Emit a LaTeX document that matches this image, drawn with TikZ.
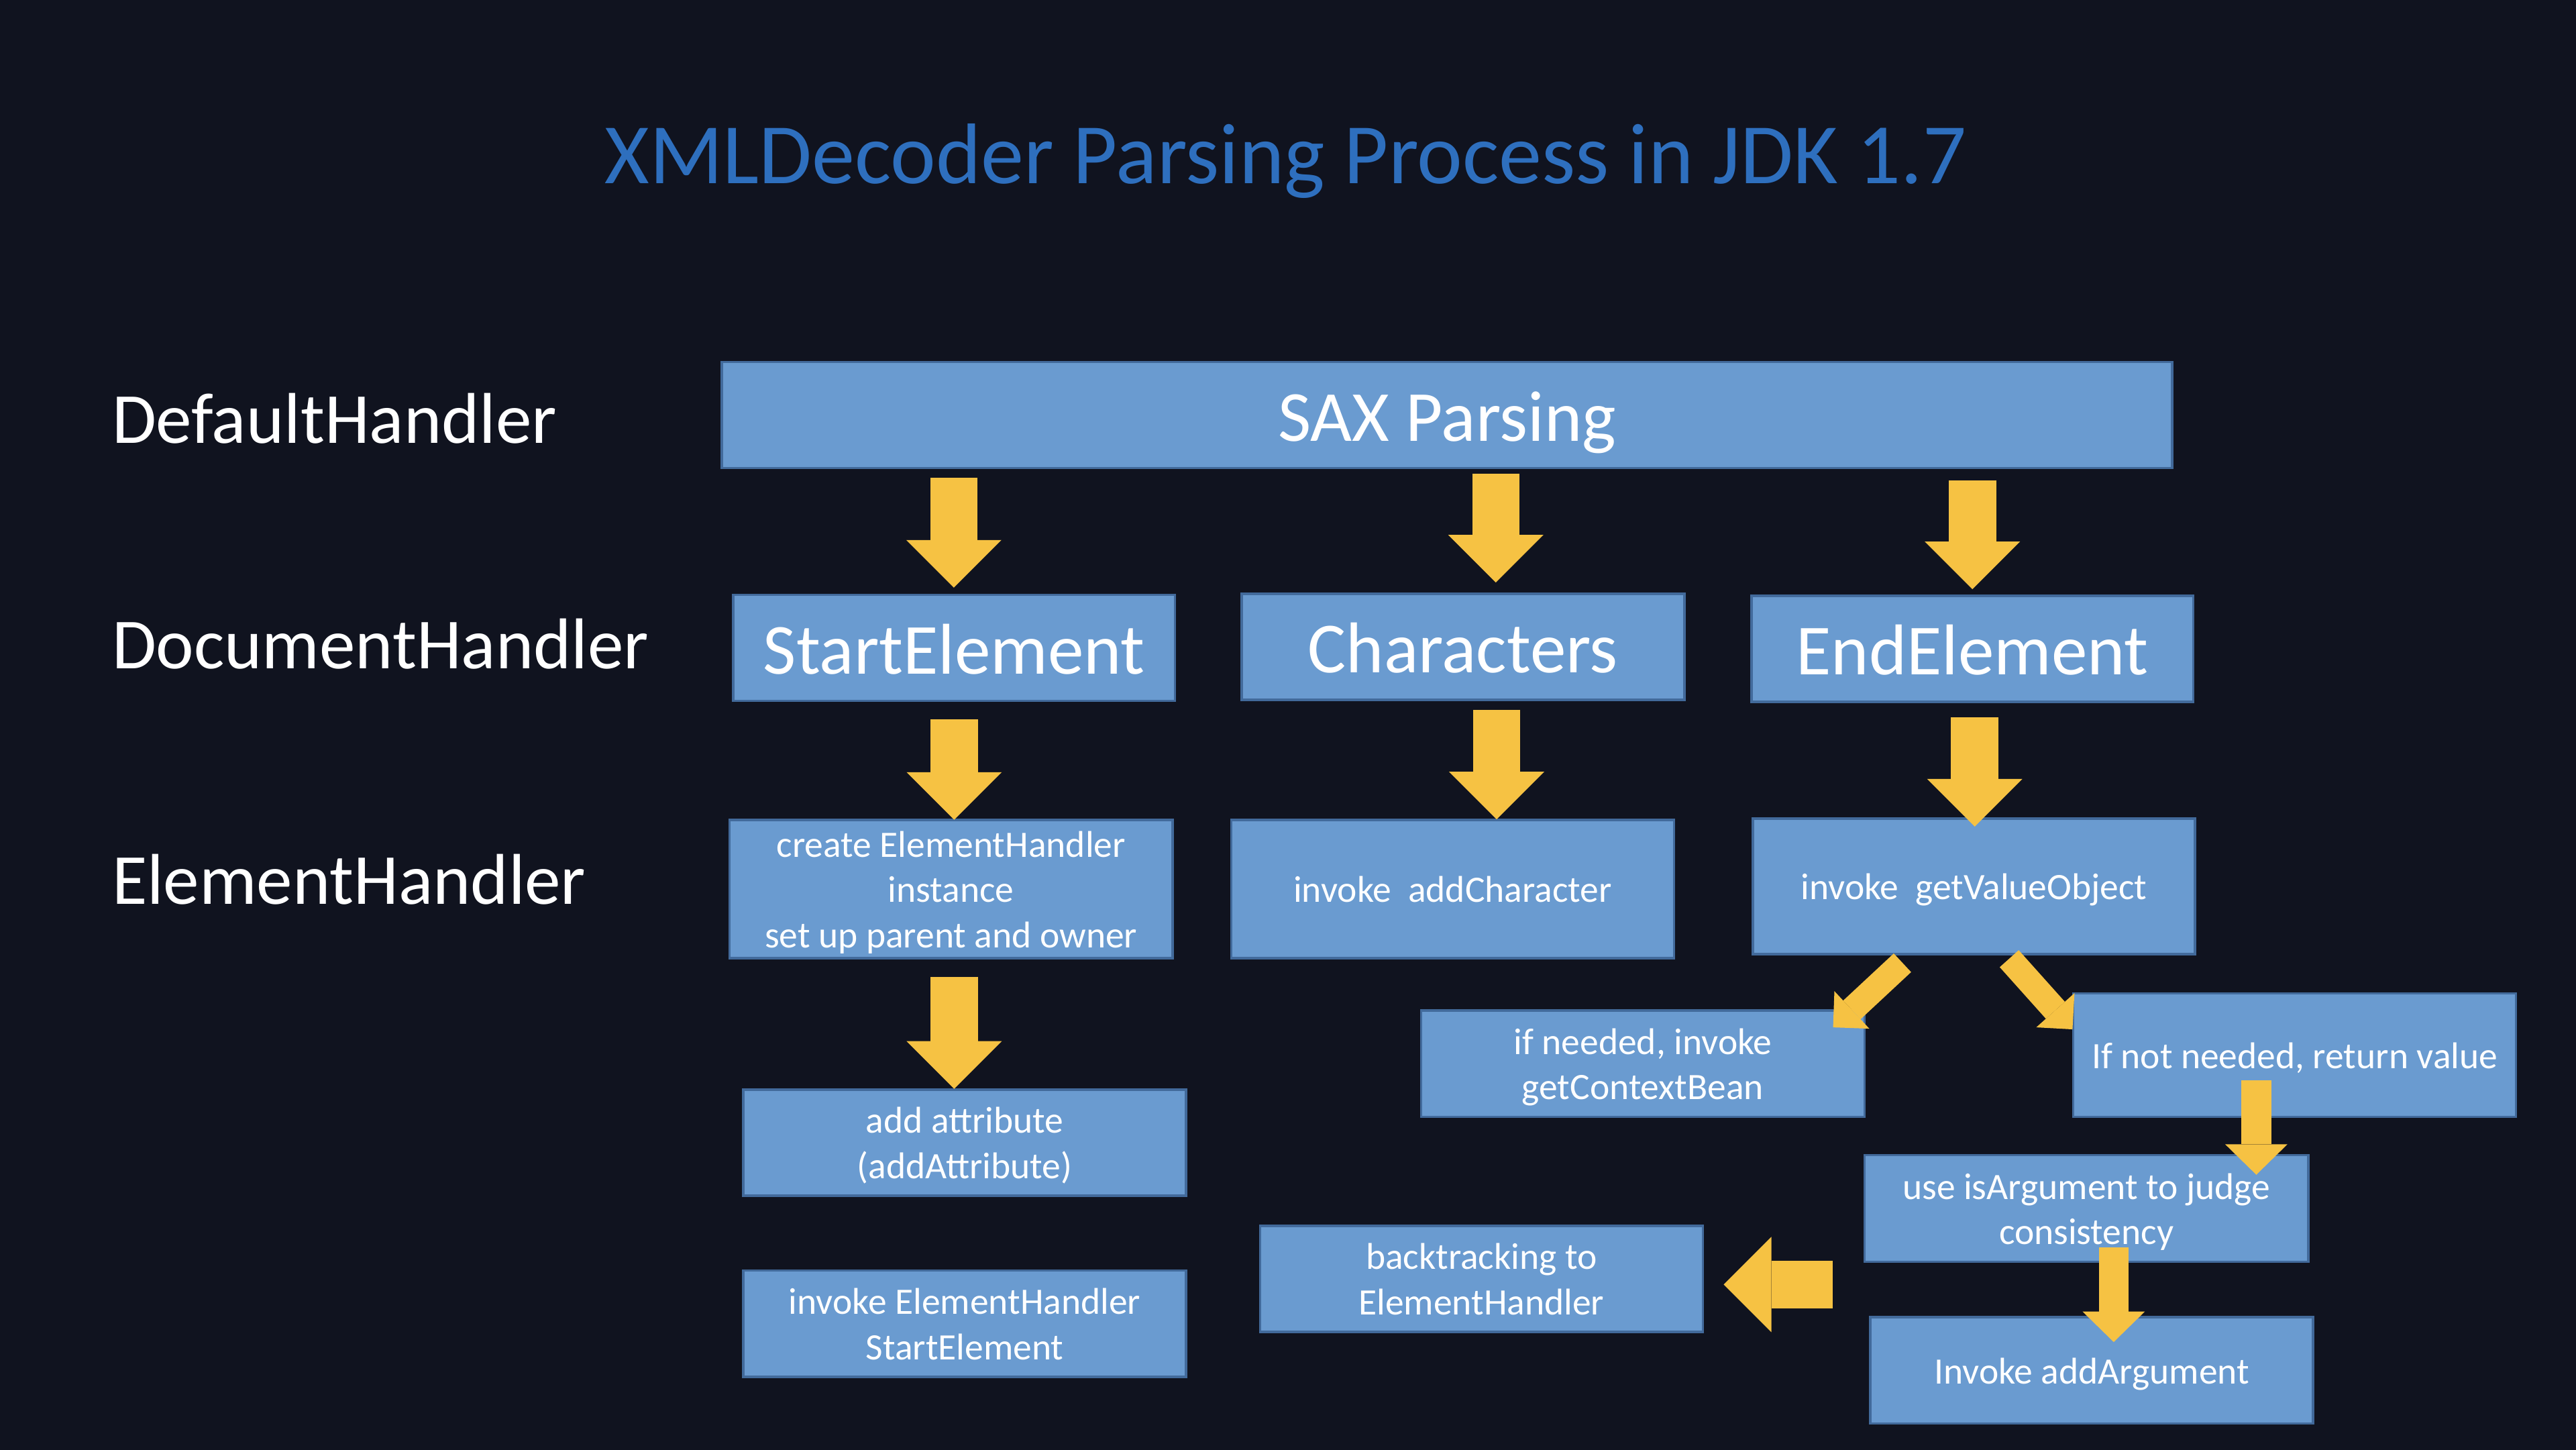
\documentclass[tikz,border=0pt]{standalone}
\usepackage{fontspec}
\setmainfont{Carlito}
\usetikzlibrary{arrows.meta}
\definecolor{bgc}{RGB}{16,19,31}
\definecolor{boxfill}{RGB}{106,155,208}
\definecolor{boxedge}{RGB}{66,106,155}
\definecolor{ylw}{RGB}{246,194,67}
\definecolor{titleblue}{RGB}{46,111,190}
\newcommand\titlef{\fontsize{14.9}{18}\selectfont}
\newcommand\bigf{\fontsize{12.45}{15}\selectfont}
\newcommand\smallf{\fontsize{6.45}{7.82}\selectfont}
% invisible struts that fix the vertical centring of box texts
\newcommand\sst{\rule[-1.6pt]{0pt}{7.8pt}}
\newcommand\bst{\rule[-3pt]{0pt}{15pt}}
\tikzset{
  box/.style={draw=boxedge, line width=0.15mm, fill=boxfill, text=white,
    align=center, inner sep=0pt, font=\smallf},
  bigbox/.style={box, font=\bigf},
  lane/.style={text=white, font=\bigf, anchor=base west, inner sep=0pt},
  ttl/.style={text=titleblue, font=\titlef, anchor=base, inner sep=0pt},
  fatarrow/.style={draw=ylw, line width=2.88mm,
    -{Triangle[width=5.8mm,length=2.9mm,line width=0pt]}},
  midarrow/.style={draw=ylw, line width=1.82mm,
    -{Triangle[width=3.8mm,length=1.86mm,line width=0pt]}},
  slimarrow/.style={draw=ylw, line width=1.55mm,
    -{Triangle[width=3.12mm,length=1.56mm,line width=0pt]}}
}
% #1 x1, #2 y1, #3 x2, #4 y2, #5 name, #6 text
\newcommand\bx[6]{\node[box, minimum width={(#3-#1)*0.1mm},
  minimum height={(#4-#2)*0.1mm}] (#5) at ({(#1+#3)/2},{(#2+#4)/2}) {\sst#6\sst};}
\newcommand\bbx[6]{\node[bigbox, minimum width={(#3-#1)*0.1mm},
  minimum height={(#4-#2)*0.1mm}] (#5) at ({(#1+#3)/2},{(#2+#4)/2}) {\bst#6\bst};}
\begin{document}
\begin{tikzpicture}[x=0.1mm,y=-0.1mm]
\useasboundingbox (0,0) rectangle (1568,882);
\fill[bgc] (-10,-10) rectangle (1578,892);

\node[ttl] (title) at (782.5,111.6) {XMLDecoder Parsing Process in JDK 1.7};
\node[lane] (ldef) at (67.5,269.6) {DefaultHandler};
\node[lane] (ldoc) at (67.5,406.7) {DocumentHandler};
\node[lane] (lel) at (67.5,550.1) {ElementHandler};

\bbx{439.3}{220.3}{1322.2}{284.8}{sax}{SAX Parsing}
\bbx{446.3}{362}{715.2}{426.5}{start}{StartElement}
\bbx{755.7}{361.4}{1025.2}{425.8}{chars}{Characters}
\bbx{1066.2}{362.7}{1335}{427.1}{endel}{EndElement}

\bx{444}{499.1}{713.8}{583}{create}{create ElementHandler\\instance\\set up parent and owner}
\bx{749.5}{499.1}{1019}{583}{addch}{invoke\ \ addCharacter}
\bx{1067}{498.2}{1336}{580.6}{getv}{invoke\ \ getValueObject}
\bx{865}{614.9}{1135}{679.6}{ifneed}{if needed, invoke\\getContextBean}
\bx{1262}{604.5}{1531.5}{679.6}{ifnot}{If not needed, return value}
\bx{452.5}{663}{722}{727.6}{addattr}{add attribute\\(addAttribute)}
\bx{1135}{703}{1405}{767.8}{useis}{use isArgument to judge\\consistency}
\bx{767}{745.9}{1036.5}{810.5}{back}{backtracking to\\ElementHandler}
\bx{452.5}{773.2}{722}{837.8}{inveh}{invoke ElementHandler\\StartElement}
\bx{1138.5}{801.6}{1408}{866.2}{invaa}{Invoke addArgument}

% arrow end points
\coordinate (a1s) at (580.6,290.9);  \coordinate (a1t) at (580.6,357.6);
\coordinate (a2s) at (910.5,288.2);  \coordinate (a2t) at (910.5,354.5);
\coordinate (a3s) at (1200.6,292.2); \coordinate (a3t) at (1200.6,358.6);
\coordinate (a4s) at (580.8,437.9);  \coordinate (a4t) at (580.8,498.9);
\coordinate (a5s) at (911,432);      \coordinate (a5t) at (911,498.6);
\coordinate (a6s) at (1202,436.7);   \coordinate (a6t) at (1202,503);
\coordinate (a7s) at (580.8,594.4);  \coordinate (a7t) at (580.8,662.6);
\coordinate (a8s) at (1158,585.9);   \coordinate (a8t) at (1115.8,625.2);
\coordinate (a9s) at (1223,583.4);   \coordinate (a9t) at (1261.5,626.4);
\coordinate (a10s) at (1373.4,657.3); \coordinate (a10t) at (1373.4,714.9);
\coordinate (a11s) at (1286.6,759.2); \coordinate (a11t) at (1286.6,816.7);
\coordinate (a12s) at (1115.6,781.7); \coordinate (a12t) at (1049.2,781.7);

\draw[fatarrow] (a1s) -- (a1t);
\draw[fatarrow] (a2s) -- (a2t);
\draw[fatarrow] (a3s) -- (a3t);
\draw[fatarrow] (a4s) -- (a4t);
\draw[fatarrow] (a5s) -- (a5t);
\draw[fatarrow] (a6s) -- (a6t);
\draw[fatarrow] (a7s) -- (a7t);
\draw[slimarrow] (a8s) -- (a8t);
\draw[slimarrow] (a9s) -- (a9t);
\draw[midarrow] (a10s) -- (a10t);
\draw[midarrow] (a11s) -- (a11t);
\draw[fatarrow] (a12s) -- (a12t);
\end{tikzpicture}
\end{document}
